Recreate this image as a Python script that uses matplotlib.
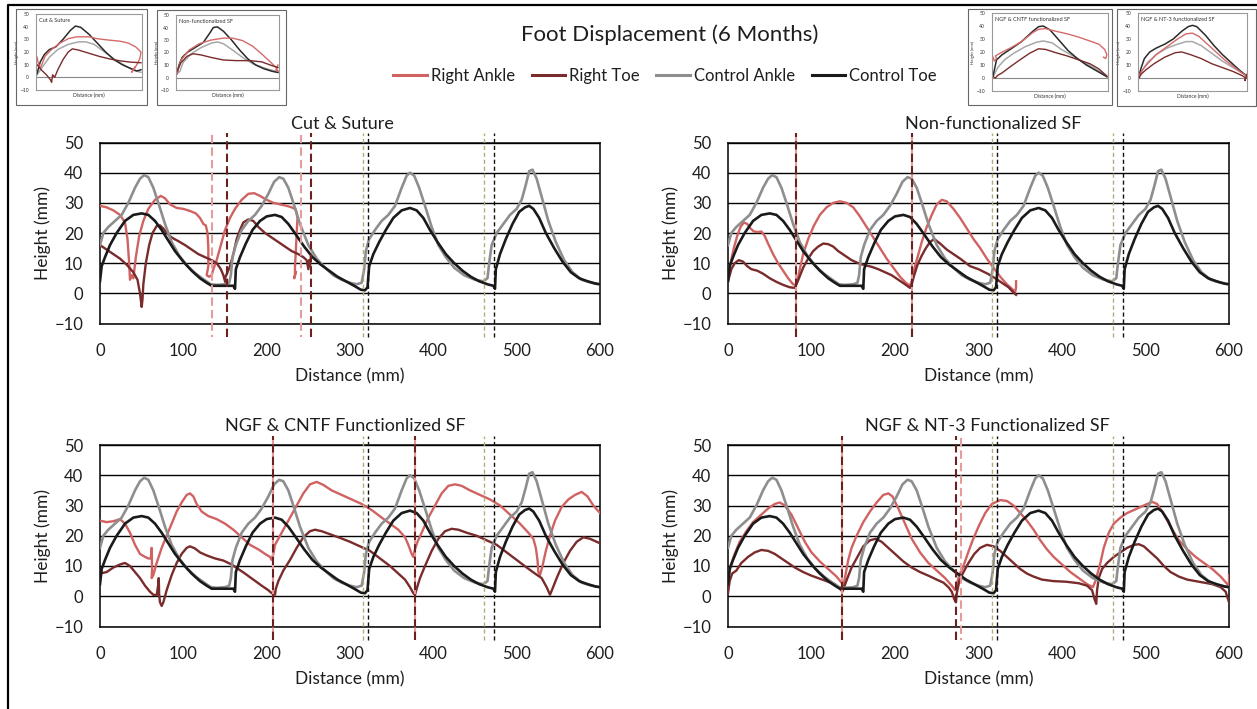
import matplotlib
matplotlib.use("Agg")
import matplotlib.pyplot as plt
from matplotlib.lines import Line2D
from matplotlib.patches import Rectangle

plt.rcParams['font.family'] = ['Lato', 'DejaVu Sans']

W, H = 1257, 709

# ---- colours
C_RA = '#D06262'   # right ankle
C_RT = '#7A2B2B'   # right toe
C_CA = '#8E8E8E'   # control ankle
C_CT = '#1A1A1A'   # control toe
C_RA_MARK = '#E59C9C'
C_RT_MARK = '#6E1F1F'
C_CA_MARK = '#B8AA7A'
C_CT_MARK = '#111111'
TXT = '#1E1E1E'

# ---- data: (distance mm, height mm)
ctrl_ankle = [(0,16),(4,20),(10,22),(18,24),(26,26),(34,30),(42,35),(48,38),(53,39.2),(58,38.5),(64,35),
              (70,30),(78,23),(86,17),(95,12.5),(105,9),(115,6.5),(125,4.5),(133,3),(140,2.8),(150,3),
              (155,3.5),(157,6),(159,12),(163,16),(170,21),(178,24),(186,26),(194,29),(202,33),(209,37),
              (215,38.5),(220,38),(226,35),(232,30),(240,23),(250,16),(260,11.5),(270,8.5),(280,6),
              (290,4.5),(300,3.5),(308,3),(314,3.5),(317,8),(319,14),(323,18),(330,21),(338,24),(346,26),
              (354,29),(362,35),(368,39),(372,40),(377,39),(383,35),(390,29),(398,22),(406,16),(415,12),
              (425,8.5),(437,6),(450,4.5),(460,4),(465,5),(467,10),(470,16),(476,20),(484,23),(492,26),
              (500,28),(506,31),(511,36),(515,40.5),(519,41),(524,38),(530,32),(538,24),(547,17),
              (557,11),(567,7),(578,4.5),(590,3.5),(600,3)]
ctrl_toe = [(0,4),(2,9),(6,12),(12,16),(20,20),(30,24),(40,26),(50,26.5),(58,26),(66,24),(74,21),
            (82,17.5),(90,14),(100,10.5),(110,7.5),(120,5),(128,3.5),(134,2.5),(145,2.5),(160,2.5),
            (162,1.5),(163,8),(168,12),(175,16.5),(183,21),(192,24),(200,25.5),(210,26),(218,25.3),
            (226,23),(235,19.5),(245,15.5),(255,12),(265,9.5),(275,7.5),(285,5.5),(295,4),(305,2.5),
            (313,1.2),(318,1),(321,2),(323,9),(328,13),(335,17),(343,21),(352,25),(362,27.5),(372,28.3),
            (380,27.5),(388,25),(396,21),(405,17),(415,13),(425,10),(435,7.5),(445,5.5),(455,4),(465,3),
            (472,2.5),(474,1.5),(475,8),(480,13),(487,18),(495,23),(503,27),(510,28.5),(515,29),(520,28),
            (527,25),(535,20),(545,15),(555,10.5),(565,7),(575,5),(585,4),(595,3.2),(600,3)]

cut_ankle = [(0,29),(8,28.5),(16,27.5),(24,26),(30,23.5),(33,18),(35,10),(36,4.5),(38,6),(40,5),(43,12),
             (47,19),(52,24),(58,28),(66,31),(73,32.3),(78,31.5),(84,29.5),(92,28.3),(100,28),(108,27.3),
             (115,26.5),(120,25),(124,23),(127,22.5),(129,20),(130,15),(130,9),(128,6),(131,5.5),(134,6),
             (136,8),(140,11),(145,16),(150,21),(156,25),(162,28),(170,31),(178,33),(185,33.2),(192,32.3),
             (200,31),(208,30),(216,29.5),(224,29),(230,28.5),(235,27.8),(237,25),(236,20),(235,14),
             (234,9),(234,6),(233,5),(235,7)]
cut_toe = [(0,16),(8,14.5),(16,13),(24,11.5),(32,9.5),(40,7),(45,4.5),(48,0),(50,-4.5),(51,-2),(52,3),
           (55,10),(59,16),(63,20),(68,22.3),(72,22.5),(76,21.5),(80,20),(86,18.5),(94,17.3),(102,16),
           (110,14.5),(118,13),(126,12),(134,11),(140,10),(145,8),(148,6),(150,4),(152,3),(150,5),
           (153,7),(156,9),(160,13),(164,18),(168,21),(172,23.5),(178,24.5),(184,24),(190,22),(198,20),
           (206,18.5),(214,17),(222,15.5),(230,14),(238,13),(244,12),(248,11),(250,8),(251,11),(252,9),
           (253,12)]

nonf_ankle = [(0,5),(3,10),(7,15),(11,19),(15,22),(19,23.5),(23,23),(27,21.5),(31,20.5),(36,20.3),(40,20.5),
              (44,19),(48,16.5),(54,13),(60,10),(66,7.5),(72,5),(78,3),(81,2.8),(83,4),(86,8),(90,13),
              (96,18),(103,22.5),(110,26),(118,28.5),(126,30),(134,30.5),(142,30),(150,28.5),(158,25.5),
              (166,22),(174,18.5),(182,15),(190,11.5),(198,8.5),(206,5.5),(213,3.5),(218,2.5),(220,4),
              (223,8),(227,12),(232,17),(238,22),(244,26),(250,29.5),(256,31),(262,30.5),(270,28),(278,25),
              (286,21.5),(294,18),(302,15),(310,11.5),(318,8.5),(326,5.5),(334,3),(340,1.5),(344,0.5),
              (345,2),(345,4)]
nonf_toe = [(0,4),(4,8),(8,10),(13,11),(18,10.5),(23,9),(28,8),(35,7.5),(42,6.5),(50,5),(58,3.8),(66,2.8),
            (74,2),(80,1.8),(82,3),(85,5),(90,8.5),(96,11.5),(102,14),(108,15.5),(114,16.5),(120,16.3),
            (126,15.5),(132,14),(140,12.5),(148,11),(156,10),(164,9.3),(172,8.8),(180,8),(188,7),(196,6),
            (204,4.5),(212,3),(218,1.8),(220,3),(223,6),(227,9.5),(232,12.5),(237,15),(242,17),(247,18),
            (254,16.5),(262,14.5),(270,13),(278,11.5),(290,9),(300,8),(311,6.5),(320,5),(328,3.5),
            (336,2),(340,0.8),(345,-0.5)]

cntf_ankle = [(0,25),(8,24.5),(16,24.8),(24,25.5),(30,24),(36,21),(42,17),(48,14),(54,13),(58,12.5),(61,12.5),
              (62,16),(62.5,9),(62,6),(64,7),(68,11),(74,16),(80,20),(86,24),(92,28),(98,31),(104,33.5),
              (108,34),(112,33),(116,30.5),(122,28),(130,26.5),(140,25.5),(150,24),(160,22),(170,19.5),
              (180,17),(190,15.5),(198,14),(204,13),(206,12),(208,14),(210,17),(214,19),(220,22),(228,26),
              (236,30),(244,34),(252,37),(260,37.8),(268,36.8),(278,35),(290,33.5),(302,32),(314,30.5),
              (326,28.5),(338,26),(348,24),(358,22),(366,19.5),(370,17),(374,14),(376,13),(378,15.5),
              (381,18),(386,21),(394,26),(402,30),(410,34),(418,36.5),(426,37),(434,36.5),(444,35),
              (456,33.5),(468,32),(480,30),(492,27),(504,24),(514,21),(520,19),(523,16),(525,12),(526,8),
              (528,7),(531,10),(535,15),(540,20),(546,25),(554,29.5),(562,32),(570,33.5),(578,34.5),
              (585,33),(592,30),(600,27.5)]
cntf_toe = [(0,7.5),(8,8),(16,9.5),(24,10.5),(30,11),(36,10),(42,8),(48,6),(54,3.5),(60,1.5),(64,0.5),(68,0.3),
            (70,4),(70.5,6),(71,0.5),(72,-2),(74,-3.2),(76,-2),(80,2),(86,7),(92,11),(98,14),(104,16),
            (108,16.5),(114,15.8),(120,14.5),(128,13.5),(138,12.5),(148,11.8),(158,10.5),(166,9),(174,7.5),
            (184,5.5),(194,3.5),(202,2),(206,1),(208,1.5),(210,0.5),(211,2.5),(214,5),(220,8.5),(228,12),
            (236,16),(244,19.5),(252,21.5),(258,22),(266,21.5),(276,20.5),(288,19.3),(300,18),(312,16.5),
            (324,15),(336,12.5),(348,10),(358,7.5),(366,5.5),(372,3),(376,1),(378,0.5),(380,2.5),(384,6),
            (390,10),(398,15),(406,19),(414,21.5),(422,22.3),(430,22),(440,21),(452,20),(464,18.5),
            (476,17),(488,14.5),(500,12),(512,9.5),(522,7.5),(530,6),(536,3),(540,0.5),(543,2.5),(548,6),
            (556,11),(564,15),(572,18),(580,19.5),(588,19),(596,18),(600,17.5)]

nt3_ankle = [(0,5),(3,10),(8,14),(14,18),(22,21.5),(30,24.5),(40,27),(48,29),(56,30.5),(62,31),(68,30),
             (76,27),(84,22.5),(92,18),(100,14.5),(110,11.5),(120,9),(130,6.5),(136,4.5),(138,3.5),(140,6),
             (144,12),(148,16),(154,20),(162,24.5),(170,28),(178,31),(186,33.5),(192,34),(197,33),(204,29),
             (212,24),(220,19),(230,14.5),(240,11),(250,8.5),(260,6),(268,3.5),(272,2),(274,4),(277,7),
             (282,10),(287,14),(293,18.5),(300,23),(308,27.5),(316,30.5),(326,31.8),(334,31.5),(342,30),
             (350,27.5),(358,25),(366,22),(374,18.5),(382,15.5),(390,13),(400,10.5),(410,8),(420,6),
             (430,4),(437,3),(440,5),(443,8),(446,11),(450,16),(456,21),(462,24),(470,26),(478,27.5),
             (486,28.5),(494,29.5),(502,30.5),(508,31.2),(514,30.5),(520,28),(530,23),(540,18.5),
             (550,15.5),(560,13),(570,11),(580,9),(590,6.5),(598,4),(600,3),(600,7)]
nt3_toe = [(0,1),(2,5),(5,7.5),(10,8.5),(16,11),(24,13),(32,14.5),(40,15.3),(48,15),(56,14),(64,12.5),(72,11),
           (80,9.5),(90,8),(100,6.8),(110,5.8),(120,4.8),(128,4),(134,2.5),(137,1.5),(139,3),(143,6),
           (148,9.5),(155,13),(162,16.5),(170,18.5),(177,19),(184,18),(192,16),(200,14),(210,11.5),
           (220,9.5),(230,8),(240,6.8),(250,5.5),(258,4.5),(264,3),(268,1.5),(271,-1),(273,-2),(274,1),
           (277,5),(282,8),(288,11),(295,14),(302,16),(310,17),(318,16.5),(326,15),(334,13),(342,11),
           (350,9),(358,7.5),(366,6.5),(376,5.5),(390,5),(405,4.8),(420,4.3),(430,3.5),(436,2),(439,-1),
           (441,-2.5),(442,2),(444,6),(448,9),(454,11),(462,13),(470,14.5),(478,16),(486,17),(492,17.2),
           (498,16.5),(506,14.5),(514,12.5),(522,10),(530,8),(540,6.5),(550,5.5),(560,5),(570,4.5),
           (580,4),(590,3),(596,1.5),(600,-2)]

# heel-strike markers (distance mm)
cut_ankle_marks, cut_toe_marks = [134, 241], [152, 253]
nonf_ankle_marks, nonf_toe_marks = [81, 220], [81, 220]
cntf_ankle_marks, cntf_toe_marks = [207, 378], [207, 378]
nt3_ankle_marks, nt3_toe_marks = [137, 279], [137, 273]
ctrl_ankle_marks, ctrl_toe_marks = [316, 461], [322, 473]

# averaged single-stride thumbnails (% of stride, height mm)
th_cut = dict(
    ct=[(0,3),(3,12),(7,18),(12,22),(18,24),(25,30),(32,37),(37,40.5),(42,39.5),(50,34),(58,27),(66,20),
        (74,14),(82,10),(90,7),(96,5),(100,6)],
    ca=[(0,2),(5,8),(12,16),(20,22),(30,26),(40,28),(47,28),(55,26),(65,20),(75,14),(85,9),(95,5),(100,4)],
    ra=[(0,16),(1,12),(3,7),(8,17),(14,22),(22,27),(30,30.5),(38,32),(50,32),(58,30.5),(68,29.5),
        (80,28.5),(88,27),(95,24),(100,20),(99,15),(96,10),(93,6),(91,4),(94,8)],
    rt=[(0,10),(4,6),(9,2),(13,-2),(14,-4),(15,2),(17,0),(20,6),(25,14),(30,20),(34,22.5),(40,21.5),
        (50,19),(60,16.5),(70,14.5),(80,13),(90,12),(100,11.5)],
    title="Cut & Suture")
th_nonf = dict(
    ct=[(0,3),(2,10),(5,16),(10,20),(18,24),(26,28),(32,35),(36,40),(40,40.5),(46,37),(54,30),(62,22),
        (70,15),(78,10),(86,7),(94,5),(100,4)],
    ca=[(0,3),(3,5),(6,12),(14,19),(24,24),(34,27.5),(40,28.5),(46,27),(55,22),(65,16),(75,11),(85,8),
        (95,5.5),(100,5)],
    ra=[(0,3),(4,14),(12,22),(22,27),(34,30),(46,31.5),(55,31.5),(65,29.5),(75,25),(85,18),(93,12),
        (98,8),(100,5),(98,6),(100,10)],
    rt=[(0,5),(4,12),(10,17),(16,19),(24,18),(34,16),(46,14),(58,13.5),(72,13.5),(84,12.5),(94,9.5),
        (100,8)],
    title="Non-functionalized SF")
th_cntf = dict(
    ct=[(0,2),(3,14),(8,18),(15,22),(25,28),(35,36),(40,39.5),(44,40),(50,37),(58,29),(66,21),(74,15),
        (82,10),(90,6),(96,3),(100,1)],
    ca=[(0,1),(4,8),(10,14),(18,19),(28,24),(38,27.5),(44,28.5),(52,27),(60,22),(70,17),(80,12),(90,7),
        (100,2)],
    ra=[(0,16),(1,13),(3,15),(2,17),(4,18),(8,20),(15,23),(25,28),(35,35),(40,37.5),(46,38),(55,36),
        (65,34),(75,31.5),(85,28.5),(93,26),(98,22),(100,18),(99,15),(97,16)],
    rt=[(0,1),(2,0),(4,2),(8,4),(14,8),(22,13),(32,19),(40,22.5),(46,22),(55,19.5),(65,17),(75,14),
        (85,11),(93,7),(98,3),(100,1)],
    title="NGF & CNTF functionalized SF")
th_nt3 = dict(
    ct=[(0,2),(2,8),(5,15),(10,20),(16,23),(24,26),(32,30),(40,36),(46,39.5),(50,40.5),(54,39.5),(62,33),
        (70,25),(78,18),(86,12),(94,6),(100,2)],
    ca=[(0,1),(3,6),(8,12),(16,18),(26,23),(36,26),(44,28),(50,28),(58,25),(68,19),(78,13),(88,8),(96,4),
        (100,2)],
    ra=[(0,2),(3,6),(8,11),(16,18),(26,24),(36,30),(44,34),(50,34.5),(56,32),(64,26),(72,20),(80,14),
        (88,9),(96,4),(100,2)],
    rt=[(0,0),(2,3),(6,6),(14,11),(24,16),(34,19.5),(40,20),(48,18),(58,15),(68,11),(78,8),(88,5),(96,2),
        (100,0),(99,-2),(101,3)],
    title="NGF & NT-3 functionalized SF")


def xy(pts):
    return [p[0] for p in pts], [p[1] for p in pts]


def rect(l, r, t, b):
    return [l / W, 1 - b / H, (r - l) / W, (b - t) / H]


fig = plt.figure(figsize=(W / 100, H / 100), dpi=100)

# outer frame (top + left edges)
fig.add_artist(Line2D([8 / W, 8 / W, 1], [0, 1 - 5 / H, 1 - 5 / H], color='black', lw=1.6))

fig.text(670 / W, 1 - 35 / H, "Foot Displacement (6 Months)", ha='center', va='center',
         fontsize=16, color=TXT)

handles = [Line2D([], [], color=C_RA, lw=2.2), Line2D([], [], color=C_RT, lw=2.2),
           Line2D([], [], color=C_CA, lw=2.2), Line2D([], [], color=C_CT, lw=2.2)]
fig.legend(handles, ["Right Ankle", "Right Toe", "Control Ankle", "Control Toe"],
           loc='center', bbox_to_anchor=(665 / W, 1 - 76 / H), ncol=4, frameon=False,
           fontsize=12, handlelength=2.0, handletextpad=0.25, columnspacing=1.0,
           labelcolor=TXT)

panels = [
    ("Cut & Suture", cut_ankle, cut_toe, cut_ankle_marks, cut_toe_marks, (100, 600, 142.5, 323.5), 342),
    ("Non-functionalized SF", nonf_ankle, nonf_toe, nonf_ankle_marks, nonf_toe_marks,
     (728, 1229, 142.5, 323.5), 993),
    ("NGF & CNTF Functionlized SF", cntf_ankle, cntf_toe, cntf_ankle_marks, cntf_toe_marks,
     (100, 600, 445, 626.5), 345),
    ("NGF & NT-3 Functionalized SF", nt3_ankle, nt3_toe, nt3_ankle_marks, nt3_toe_marks,
     (728, 1229, 445, 626.5), 987),
]

LO, HI = -14.5, 53.0
for title, ankle, toe, amarks, tmarks, (l, r, t, b), tx in panels:
    ax = fig.add_axes(rect(l, r, t, b))
    ax.set_xlim(0, 600)
    ax.set_ylim(-10, 50)
    ax.set_xticks(range(0, 601, 100))
    ax.set_yticks(range(-10, 51, 10))
    for yv in range(-10, 51, 10):
        ax.axhline(yv, color='black', lw=1.0, zorder=1)
    for s in ax.spines.values():
        s.set_color('black')
        s.set_linewidth(1.1)
    ax.tick_params(length=0, labelsize=12, colors=TXT)
    ax.tick_params(axis='x', pad=14)
    ax.tick_params(axis='y', pad=12)

    ax.plot(*xy(ankle), color=C_RA, lw=1.7, zorder=3)
    ax.plot(*xy(toe), color=C_RT, lw=1.7, zorder=3)
    ax.plot(*xy(ctrl_ankle), color=C_CA, lw=1.9, zorder=4)
    ax.plot(*xy(ctrl_toe), color=C_CT, lw=1.9, zorder=5)

    # dashed heel-strike markers; pink shows through the gaps where both coincide
    for xv in amarks:
        ax.plot([xv, xv], [LO, HI], color=C_RA_MARK, lw=1.5, ls=(3, (4, 2)),
                clip_on=False, zorder=6)
    for xv in tmarks:
        ax.plot([xv, xv], [LO, HI], color=C_RT_MARK, lw=1.5, ls=(0, (4, 2)),
                clip_on=False, zorder=7)
    for xv in ctrl_ankle_marks:
        ax.plot([xv, xv], [LO, HI], color=C_CA_MARK, lw=1.0, ls=(0, (3, 2)),
                clip_on=False, zorder=6)
    for xv in ctrl_toe_marks:
        ax.plot([xv, xv], [LO, HI], color=C_CT_MARK, lw=1.0, ls=(0, (3, 2)),
                clip_on=False, zorder=6)

    fig.text(tx / W, 1 - (t - 18.5) / H, title, ha='center', va='center', fontsize=13, color=TXT)
    fig.text((l + r) / 2 / W, 1 - (b + 52.5) / H, "Distance (mm)", ha='center', va='center',
             fontsize=12.5, color=TXT)
    fig.text((l - 57) / W, 1 - (t + b) / 2 / H, "Height (mm)", ha='center', va='center',
             rotation=90, fontsize=12.5, color=TXT)

# thumbnails
thumbs = [
    (th_cut, (16, 147, 9, 105), (36, 142, 14, 90)),
    (th_nonf, (157, 286, 10, 105), (176, 279, 15, 90)),
    (th_cntf, (968, 1112, 9, 105), (992, 1108, 13, 91)),
    (th_nt3, (1117, 1256, 9, 106), (1138, 1247, 13, 91)),
]
for th, (ol, orr, ot, ob), (l, r, t, b) in thumbs:
    fig.add_artist(Rectangle((ol / W, 1 - ob / H), (orr - ol) / W, (ob - ot) / H,
                             transform=fig.transFigure, fill=False, ec='#666666', lw=0.8))
    ax = fig.add_axes(rect(l, r, t, b))
    ax.set_xlim(-1, 101)
    ax.set_ylim(-10, 50)
    ax.set_yticks(range(-10, 51, 10))
    ax.set_xticks([])
    ax.axhline(0, color='#888888', lw=0.8)
    for s in ax.spines.values():
        s.set_color('#999999')
        s.set_linewidth(0.8)
    ax.tick_params(length=0, labelsize=3.6, colors='#333333', pad=5)
    ax.plot(*xy(th['ca']), color='#A8A8A8', lw=1.1)
    ax.plot(*xy(th['ct']), color='#2A2A2A', lw=1.1)
    ax.plot(*xy(th['ra']), color='#D66A6A', lw=1.0)
    ax.plot(*xy(th['rt']), color='#7A2B2B', lw=1.0)
    ax.text(2, 47, th['title'], fontsize=4.0, color='#333333', ha='left', va='top')
    ax.set_xlabel("Distance (mm)", fontsize=3.6, color='#333333', labelpad=2)
    ax.set_ylabel("Height (mm)", fontsize=3.2, color='#333333', labelpad=1)

fig.savefig("out.png", dpi=100)
